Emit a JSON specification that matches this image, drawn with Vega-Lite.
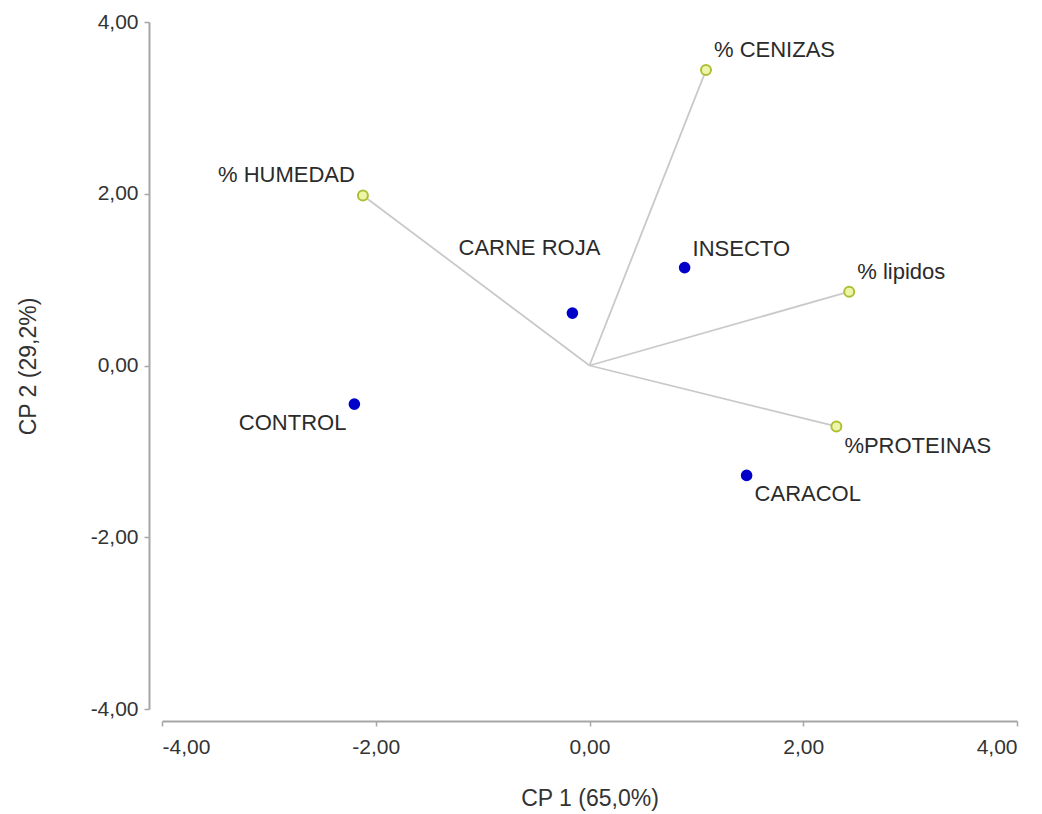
{
  "$schema": "https://vega.github.io/schema/vega-lite/v6.json",
  "width": 855,
  "height": 687,
  "autosize": "none",
  "padding": {"left": 162, "top": 22, "right": 25, "bottom": 105},
  "background": "white",
  "config": {
    "view": {"stroke": null},
    "font": "Liberation Sans",
    "axis": {
      "grid": false,
      "domainColor": "#a6a6a6",
      "domainWidth": 2,
      "tickColor": "#a6a6a6",
      "tickWidth": 1.5,
      "tickSize": 5,
      "labelFont": "Liberation Sans",
      "labelFontSize": 21,
      "labelColor": "#333333",
      "titleFont": "Liberation Sans",
      "titleFontSize": 23,
      "titleFontWeight": "normal",
      "titleColor": "#333333"
    }
  },
  "datasets": {
    "objects": [
      {"name": "CONTROL", "cp1": -2.2, "cp2": -0.45},
      {"name": "CARNE ROJA", "cp1": -0.16, "cp2": 0.61},
      {"name": "INSECTO", "cp1": 0.89, "cp2": 1.14},
      {"name": "CARACOL", "cp1": 1.47, "cp2": -1.28}
    ],
    "variables": [
      {"name": "% HUMEDAD", "cp1": -2.12, "cp2": 1.98},
      {"name": "% CENIZAS", "cp1": 1.09, "cp2": 3.44},
      {"name": "% lipidos", "cp1": 2.43, "cp2": 0.86},
      {"name": "%PROTEINAS", "cp1": 2.31, "cp2": -0.71}
    ]
  },
  "encoding": {
    "x": {
      "field": "cp1",
      "type": "quantitative",
      "scale": {"domain": [-4, 4], "nice": false, "zero": false},
      "axis": {
        "title": "CP 1 (65,0%)",
        "values": [-4, -2, 0, 2, 4],
        "offset": 12,
        "labelPadding": 10,
        "titlePadding": 30,
        "labelExpr": "(datum.value < 0 ? '-' : '') + replace(format(abs(datum.value), '.2f'), '.', ',')"
      }
    },
    "y": {
      "field": "cp2",
      "type": "quantitative",
      "scale": {"domain": [-4, 4], "nice": false, "zero": false},
      "axis": {
        "title": "CP 2 (29,2%)",
        "values": [-4, -2, 0, 2, 4],
        "offset": 13,
        "labelPadding": 6,
        "titleX": -121,
        "titleY": 344,
        "titleBaseline": "middle",
        "labelExpr": "(datum.value < 0 ? '-' : '') + replace(format(abs(datum.value), '.2f'), '.', ',')"
      }
    }
  },
  "layer": [
    {
      "data": {"name": "variables"},
      "mark": {"type": "rule", "color": "#c9c9c9", "strokeWidth": 1.8},
      "encoding": {"x2": {"datum": 0}, "y2": {"datum": 0}}
    },
    {
      "data": {"name": "variables"},
      "mark": {"type": "circle", "fill": "#eef4a8", "stroke": "#adc035", "strokeWidth": 2, "size": 100, "opacity": 1}
    },
    {
      "data": {"name": "objects"},
      "mark": {"type": "circle", "color": "#0000c8", "size": 135, "opacity": 1}
    },
    {
      "data": {"name": "variables"},
      "transform": [{"filter": {"field": "name", "oneOf": ["% CENIZAS", "% lipidos"]}}],
      "mark": {"type": "text", "align": "left", "baseline": "middle", "dx": 8, "dy": -20, "fontSize": 22, "color": "#2b2b2b"},
      "encoding": {"text": {"field": "name"}}
    },
    {
      "data": {"name": "variables"},
      "transform": [{"filter": {"field": "name", "equal": "% HUMEDAD"}}],
      "mark": {"type": "text", "align": "right", "baseline": "middle", "dx": -8, "dy": -20, "fontSize": 22, "color": "#2b2b2b"},
      "encoding": {"text": {"field": "name"}}
    },
    {
      "data": {"name": "variables"},
      "transform": [{"filter": {"field": "name", "equal": "%PROTEINAS"}}],
      "mark": {"type": "text", "align": "left", "baseline": "middle", "dx": 8, "dy": 20, "fontSize": 22, "color": "#2b2b2b"},
      "encoding": {"text": {"field": "name"}}
    },
    {
      "data": {"name": "objects"},
      "transform": [{"filter": {"field": "name", "equal": "INSECTO"}}],
      "mark": {"type": "text", "align": "left", "baseline": "middle", "dx": 8, "dy": -19, "fontSize": 22, "color": "#2b2b2b"},
      "encoding": {"text": {"field": "name"}}
    },
    {
      "data": {"name": "objects"},
      "transform": [{"filter": {"field": "name", "equal": "CARACOL"}}],
      "mark": {"type": "text", "align": "left", "baseline": "middle", "dx": 8, "dy": 19, "fontSize": 22, "color": "#2b2b2b"},
      "encoding": {"text": {"field": "name"}}
    },
    {
      "data": {"name": "objects"},
      "transform": [{"filter": {"field": "name", "equal": "CONTROL"}}],
      "mark": {"type": "text", "align": "right", "baseline": "middle", "dx": -8, "dy": 19, "fontSize": 22, "color": "#2b2b2b"},
      "encoding": {"text": {"field": "name"}}
    },
    {
      "data": {"name": "objects"},
      "transform": [{"filter": {"field": "name", "equal": "CARNE ROJA"}}],
      "mark": {"type": "text", "align": "center", "baseline": "middle", "dx": -43, "dy": -65, "fontSize": 22, "color": "#2b2b2b"},
      "encoding": {"text": {"field": "name"}}
    }
  ]
}
